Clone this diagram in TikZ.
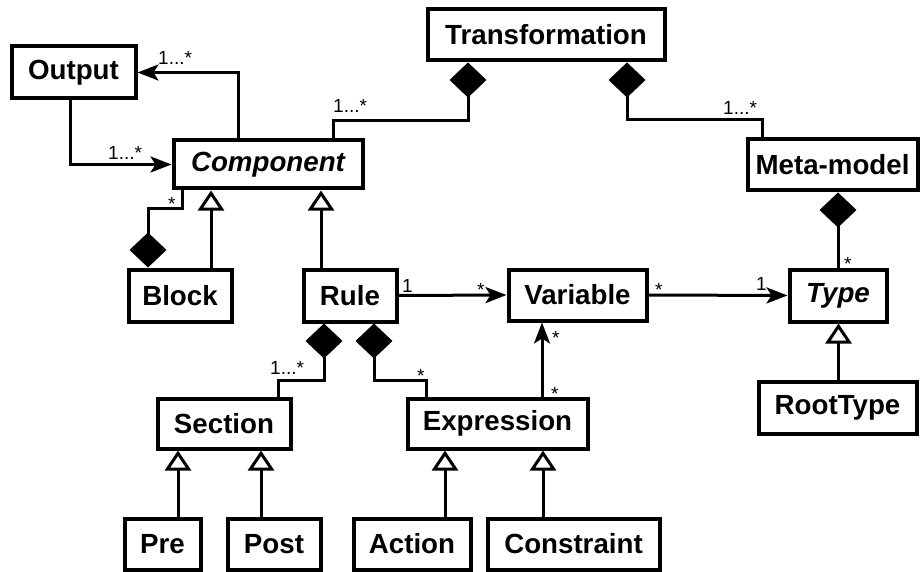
\documentclass[tikz,border=0pt]{standalone}
\usepackage{fontspec}
\setmainfont{Liberation Sans}
\usetikzlibrary{arrows.meta}

\tikzset{
  cls/.style={draw, line width=4pt, inner sep=0pt, font=\fontsize{27.7}{32}\selectfont\bfseries},
  abstr/.style={cls, font=\fontsize{27.7}{32}\selectfont\bfseries\itshape},
  box/.style 2 args={minimum width=#1pt, minimum height=#2pt},
  assoc/.style={line width=3pt},
  nav/.style={assoc, -{Stealth[length=21pt,width=16pt,inset=5pt]}},
  comp/.style={assoc, {Diamond[length=35pt,width=37pt]}-},
  gen/.style={assoc, -{Triangle[open,length=20pt,width=26pt,fill=white]}},
  mult/.style={font=\fontsize{19}{22}\selectfont, inner sep=0pt, anchor=base west},
}

\begin{document}
\begin{tikzpicture}[x=1pt,y=-1pt]
  \useasboundingbox (0,0) rectangle (923,572);

  % Classes
  \node[cls, box={124}{52}]   (out)  at (73.5,72.5)   {Output};
  \node[abstr, box={189}{48}] (cmp)  at (268,164.5)   {Component};
  \node[cls, box={237}{51}]   (trf)  at (546,35)      {Transformation};
  \node[cls, box={170}{51}]   (meta) at (832.5,165)   {Meta-model};
  \node[cls, box={103}{52}]   (blk)  at (180,295.5)   {Block};
  \node[cls, box={93}{52}]    (rule) at (350,295.5)   {Rule};
  \node[cls, box={138}{51}]   (var)  at (577.5,295)   {Variable};
  \node[abstr, box={97}{52}]  (type) at (838,295.5)   {Type};
  \node[cls, box={158}{52}]   (root) at (837.5,407.5) {RootType};
  \node[cls, box={133}{50}]   (sec)  at (224,423.5)   {Section};
  \node[cls, box={180}{50}]   (expr) at (497.5,423.5) {Expression};
  \node[cls, box={76}{51}]    (pre)  at (162.5,544)   {Pre};
  \node[cls, box={93}{51}]    (post) at (274,544)     {Post};
  \node[cls, box={117}{51}]   (act)  at (412,544)     {Action};
  \node[cls, box={172}{51}]   (cons) at (573.5,544)   {Constraint};

  % Associations
  \draw[nav] ([xshift=-30pt]cmp.north) |- (out.east);
  \draw[nav] ([xshift=-3.5pt]out.south) |- (cmp.west);
  \draw[nav] (rule.east) -- (var.west);
  \draw[nav] (var.east) -- (type.west);
  \draw[nav] ([xshift=44.5pt]expr.north) -- ([xshift=44.5pt]expr.north |- var.south);

  % Compositions
  \draw[comp] ([xshift=-78pt]trf.south) -- ++(0,58) -| ([xshift=65pt]cmp.north);
  \draw[comp] ([xshift=81pt]trf.south) -- ++(0,57) -| ([xshift=-70.5pt]meta.north);
  \draw[comp] (type.north |- meta.south) -- (type.north);
  \draw[comp] ([xshift=-32pt]blk.north) -- ++(0,-59.5) -| ([xshift=-86pt]cmp.south);
  \draw[comp] ([xshift=-26pt]rule.south) -- ++(0,56.5) -| ([xshift=54pt]sec.north);
  \draw[comp] ([xshift=24pt]rule.south) -- ++(0,56.5) -| ([xshift=-71.5pt]expr.north);

  % Generalisations
  \foreach \sub/\dx/\parent in {blk/31/cmp, rule/-29/cmp, pre/15.5/sec, post/-13/sec,
                                act/33/expr, cons/-30.5/expr, root/1/type}
    \draw[gen] ([xshift=\dx pt]\sub.north) -- ([xshift=\dx pt]\sub.north |- \parent.south);

  % Multiplicities
  \node[mult] (m1)  at (158,65)  {1...*};
  \node[mult] (m2)  at (108,160) {1...*};
  \node[mult] (m3)  at (333,113) {1...*};
  \node[mult] (m4)  at (723,115) {1...*};
  \node[mult] (m5)  at (844,270) {*};
  \node[mult] (m6)  at (168,211) {*};
  \node[mult] (m7)  at (402,292) {1};
  \node[mult] (m8)  at (477,296) {*};
  \node[mult] (m9)  at (655,296) {*};
  \node[mult] (m10) at (756,290) {1};
  \node[mult] (m11) at (552,344) {*};
  \node[mult] (m12) at (551,400) {*};
  \node[mult] (m13) at (270,374) {1...*};
  \node[mult] (m14) at (417,382) {*};
\end{tikzpicture}
\end{document}
